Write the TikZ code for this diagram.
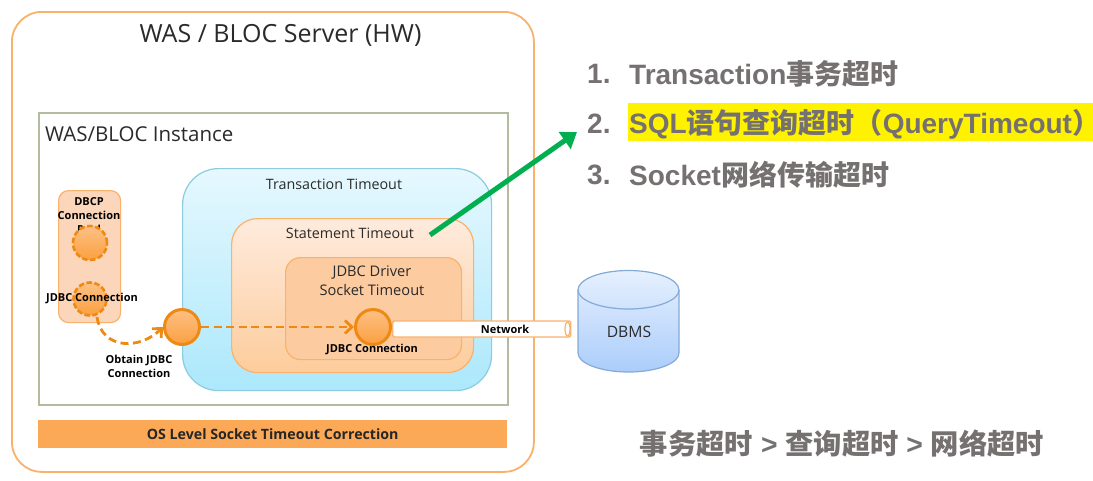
\documentclass[tikz,border=0pt]{standalone}
\usepackage{fontspec}
\setmainfont{Open Sans}
\newfontfamily\rightlat{Liberation Sans}[BoldFont={Liberation Sans Bold}]
\newfontfamily\cjkf{Noto Sans CJK SC Bold}
\newfontfamily\cjkp[RawFeature=+halt]{Noto Sans CJK SC Bold}
\usetikzlibrary{arrows.meta,shapes.geometric,calc}
\definecolor{orangeB}{HTML}{F9B26C}
\definecolor{darkO}{HTML}{EE8A13}
\definecolor{midO}{HTML}{FBA957}
\definecolor{olv}{HTML}{B2BB9D}
\definecolor{rtext}{HTML}{767171}
\definecolor{dk}{HTML}{2A2A2A}
\definecolor{tTop}{HTML}{E6F8FE}
\definecolor{tBot}{HTML}{ACE8FC}
\definecolor{tBor}{HTML}{8CCBE0}
\definecolor{sTop}{HTML}{FEEBDD}
\definecolor{sBot}{HTML}{FDCC9C}
\definecolor{drvF}{HTML}{FCCBA0}
\definecolor{poolF}{HTML}{FBD6BA}
\definecolor{cTop}{HTML}{FDC084}
\definecolor{cBot}{HTML}{FBA040}
\definecolor{gArrow}{HTML}{00B050}
\definecolor{dbTop}{HTML}{E6F0FE}
\definecolor{dbBot}{HTML}{ABCDFB}
\definecolor{dbBor}{HTML}{84AAD6}
\tikzset{
 box/.style={draw,rounded corners=#1,line width=1.2pt,inner sep=0pt},
 lbl/.style={font=\fontsize{14.3}{15}\selectfont,text=dk,align=center,inner sep=0pt},
 blbl/.style={font=\fontsize{11}{14}\selectfont\bfseries,text=black,align=center,inner sep=0pt},
 rlist/.style={anchor=west,inner sep=0pt,text=rtext,font=\fontsize{28}{30}\selectfont\rightlat\bfseries},
 dcirc/.style={circle,draw=darkO,line width=2.6pt,dash pattern=on 5.5pt off 2.5pt,top color=cTop,bottom color=cBot,inner sep=0pt,minimum size=#1},
 scirc/.style={circle,draw=darkO,line width=3pt,top color=cTop,bottom color=cBot,inner sep=0pt,minimum size=#1},
 conn/.style={draw=darkO,line width=2.8pt,dash pattern=on 8pt off 4.5pt,-{Straight Barb[length=7pt,width=13pt,line width=2.8pt]}},
}
\newcommand{\rrect}[7]{% name,x1,y1,x2,y2,radius,style
 \node[box=#6,#7,minimum width=#4pt-#2pt,minimum height=#5pt-#3pt,anchor=north west] (#1) at (#2,#3) {};}
\begin{document}
\begin{tikzpicture}[x=1pt,y=-1pt]
\useasboundingbox (0,0) rectangle (1093,480);
\fill[white] (0,0) rectangle (1093,480);
% outer server
\rrect{server}{11}{11}{533}{471}{30pt}{draw=orangeB,line width=1.8pt,fill=white}
\node[inner sep=0pt,font=\fontsize{25}{28}\selectfont,text=dk] (servert) at (280.5,35) {WAS / BLOC Server (HW)};
% instance
\rrect{inst}{38}{112}{507}{404}{0pt}{draw=olv,line width=1.5pt,fill=white,sharp corners}
\node[inner sep=0pt,anchor=west,font=\fontsize{20.5}{24}\selectfont,text=dk] (instt) at (45,134) {WAS/BLOC Instance};
% transaction
\rrect{trans}{182}{168}{491}{390}{36pt}{draw=tBor,top color=tTop,bottom color=tBot}
\node[lbl] (transt) at (334,184) {Transaction Timeout};
% statement
\rrect{stmt}{231}{218}{473}{372}{26pt}{draw=orangeB,top color=sTop,bottom color=sBot}
\node[lbl] (stmtt) at (350,233) {Statement Timeout};
% driver
\rrect{drv}{285}{257}{461}{359}{15pt}{draw=orangeB,fill=drvF}
\node[lbl,font=\fontsize{14.6}{19}\selectfont] (drvt) at (372,281) {JDBC Driver\\Socket Timeout};
% pool
\rrect{pool}{58}{190}{120}{322}{10pt}{draw=orangeB,fill=poolF}
\node[blbl,anchor=north] (poolt) at (89,197.5) {DBCP\\Connection\\Pool};
\node[dcirc=34pt] (c1) at (90,243) {};
\node[dcirc=33pt] (c2) at (90,299) {};
\node[blbl] (c2t) at (92,298) {JDBC Connection};
% circles
\node[scirc=35pt] (c3) at (182,327) {};
\node[scirc=35pt] (c4) at (373,327) {};
\node[blbl] (c4t) at (372,349) {JDBC Connection};
\node[blbl] (obt) at (139,366) {Obtain JDBC\\Connection};
% connectors
\coordinate (s) at (97,317);
\draw[conn] (s) .. controls (102,350) and (140,350) .. (c3.west);
\draw[conn] (c3.east) -- (c4.west);
% pipe
\node[draw=orangeB,line width=1.4pt,fill=white,rounded corners=2pt,inner sep=0pt,minimum width=178pt,minimum height=16pt,anchor=west] (pipe) at (392,329) {};
\draw[orangeB,line width=1.2pt] (567.5,329) ellipse[x radius=2.5,y radius=7];
\node[blbl] (pipet) at (505,329) {Network};
% DBMS
\shade[top color=dbTop,bottom color=dbBot,draw=dbBor,line width=1.2pt]
  (578,290) arc[start angle=180,end angle=360,x radius=50.5,y radius=19.5]
  -- (679,353) arc[start angle=0,end angle=180,x radius=50.5,y radius=19]
  -- cycle;
\draw[dbBor,line width=1.2pt] (578,290) arc[start angle=180,end angle=0,x radius=50.5,y radius=19];
\node[lbl,font=\fontsize{15.7}{18}\selectfont] (dbt) at (629,332) {DBMS};
% bar
\node[draw=none,fill=midO,inner sep=0pt,minimum width=469pt,minimum height=28pt,anchor=north west,font=\fontsize{14.2}{15}\selectfont\bfseries,text=black!85] (bar) at (38,420) {\raisebox{-1pt}{OS Level Socket Timeout Correction}};
% right
\node[fill=yellow,anchor=west,inner sep=0pt,minimum width=465pt,minimum height=38pt] (hl) at (628,122) {};
\node[rlist] (n1) at (587,74) {1.};
\node[rlist] (n2) at (587,124) {2.};
\node[rlist] (n3) at (587,175) {3.};
\node[rlist] (t1) at (629,74) {Transaction{\cjkf 事务超时}};
\node[rlist] (t2) at (629,124) {SQL{\cjkf 语句查询超时（}QueryTimeout{\cjkp ）}};
\node[rlist] (t3) at (629,175) {Socket{\cjkf 网络传输超时}};
\node[rlist,anchor=center,font=\fontsize{28.3}{30}\selectfont\rightlat\bfseries] (t4) at (842,444) {{\cjkf 事务超时} > {\cjkf 查询超时} > {\cjkf 网络超时}};
% green arrow
\coordinate (gs) at (430,235);
\coordinate (gt) at (577,132);
\draw[gArrow,line width=5pt,-{Triangle[length=15pt,width=20pt]}] (gs) -- (gt);
\end{tikzpicture}
\end{document}
